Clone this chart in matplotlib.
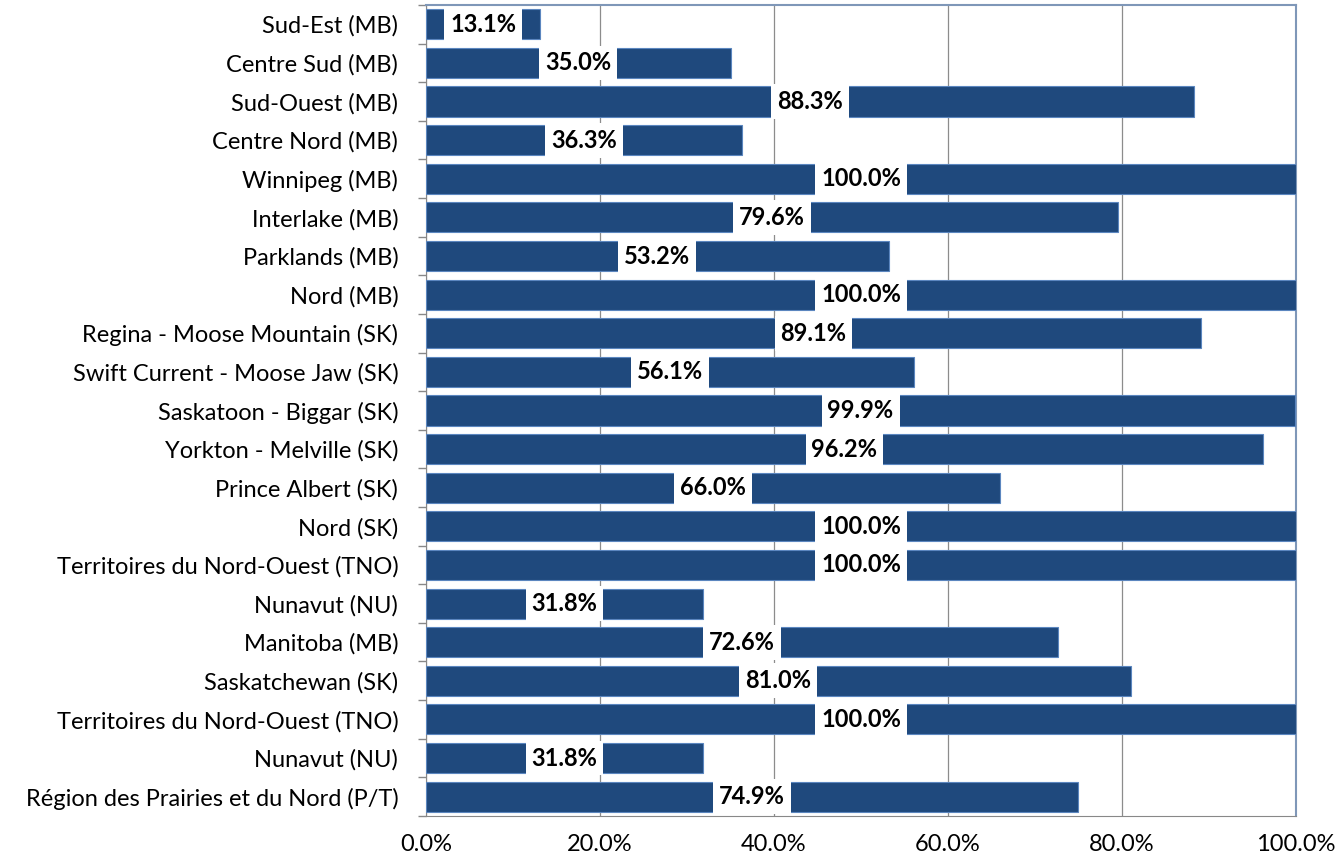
import numpy as np
import matplotlib.pyplot as plt
from matplotlib.ticker import FixedLocator

plt.rcParams['font.family'] = ['Lato', 'DejaVu Sans']

regions = [
    'Sud-Est (MB)', 'Centre Sud (MB)', 'Sud-Ouest (MB)', 'Centre Nord (MB)',
    'Winnipeg (MB)', 'Interlake (MB)', 'Parklands (MB)', 'Nord (MB)',
    'Regina - Moose Mountain (SK)', 'Swift Current - Moose Jaw (SK)',
    'Saskatoon - Biggar (SK)', 'Yorkton - Melville (SK)', 'Prince Albert (SK)',
    'Nord (SK)', 'Territoires du Nord-Ouest (TNO)', 'Nunavut (NU)',
    'Manitoba (MB)', 'Saskatchewan (SK)', 'Territoires du Nord-Ouest (TNO)',
    'Nunavut (NU)', 'Région des Prairies et du Nord (P/T)',
]
values = [13.1, 35.0, 88.3, 36.3, 100.0, 79.6, 53.2, 100.0, 89.1, 56.1,
          99.9, 96.2, 66.0, 100.0, 100.0, 31.8, 72.6, 81.0, 100.0, 31.8, 74.9]
xticks = [0, 20, 40, 60, 80, 100]

fig = plt.figure(figsize=(13.41, 8.64), dpi=100)
ax = fig.add_axes([0.3177, 0.0556, 0.6487, 0.9386])

y = np.arange(len(regions))
ax.barh(y, values, height=0.78, color='#1F497D', edgecolor='#5B86BF', linewidth=0.8, zorder=3)

for yi, v in zip(y, values):
    ax.text(v / 2, yi, f'{v:.1f}%', ha='center', va='center', fontsize=17,
            fontweight='bold', color='black', zorder=4,
            bbox=dict(boxstyle='square,pad=0.25', facecolor='white', edgecolor='none'))

ax.set_xlim(0, 100)
ax.set_ylim(len(regions) - 0.5, -0.5)
ax.set_xticks(xticks)
ax.set_xticklabels([f'{t:.1f}%' for t in xticks], fontsize=17)
ax.set_yticks(y)
ax.set_yticklabels(regions, fontsize=17)
ax.tick_params(axis='y', length=0, pad=20)
ax.tick_params(axis='x', length=0, pad=13)

# category boundary tick marks
ax.yaxis.set_minor_locator(FixedLocator(np.arange(-0.5, len(regions), 1)))
ax.tick_params(axis='y', which='minor', length=6, color='#888888', width=1)
ax.xaxis.set_minor_locator(FixedLocator(xticks))
ax.tick_params(axis='x', which='minor', length=6, color='#888888', width=1)

ax.grid(axis='x', color='#8C8C8C', linewidth=0.9, zorder=0)
for side in ['left', 'bottom']:
    ax.spines[side].set_color('#888888')
for side in ['top', 'right']:
    ax.spines[side].set_color('#7F97B8')
    ax.spines[side].set_linewidth(1.5)

fig.savefig('out.png', dpi=100)
